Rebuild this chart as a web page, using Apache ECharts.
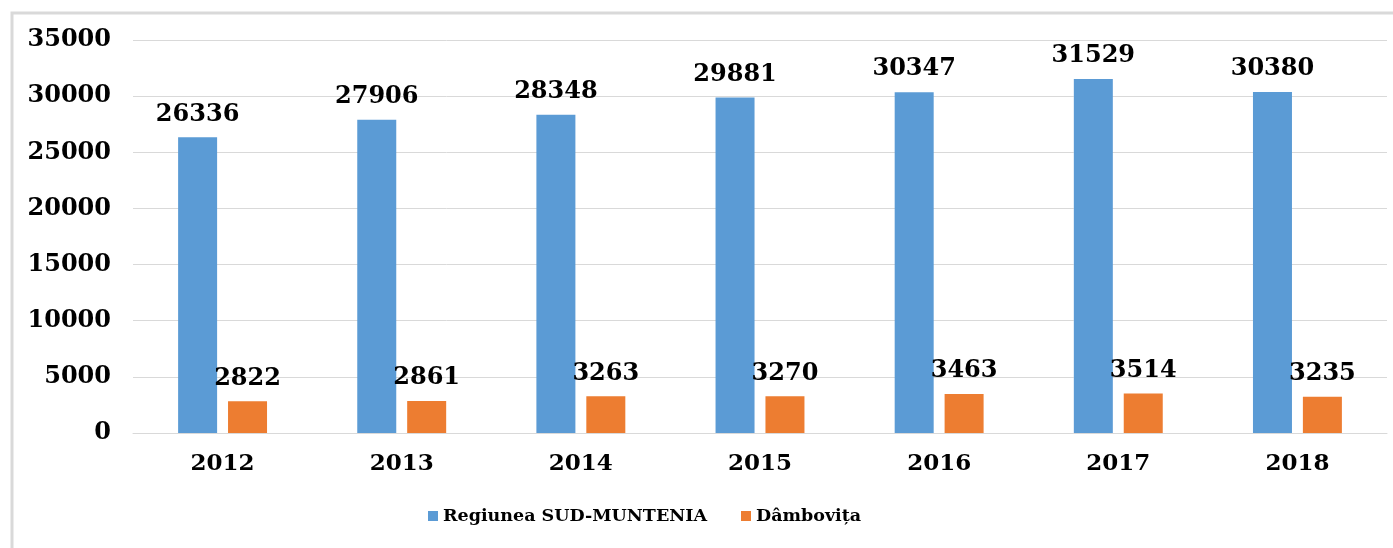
<!DOCTYPE html>
<html>
<head>
<meta charset="utf-8">
<script src="https://cdn.jsdelivr.net/npm/echarts@6/dist/echarts.min.js"></script>
<style>
  html, body { margin: 0; padding: 0; background: #fff; }
  #chart { width: 1393px; height: 548px; }
</style>
</head>
<body>
<div id="chart"></div>
<script>
const years = ['2012', '2013', '2014', '2015', '2016', '2017', '2018'];
const sudMuntenia = [26336, 27906, 28348, 29881, 30347, 31529, 30380];
const dambovita = [2822, 2861, 3263, 3270, 3463, 3514, 3235];
const seriesNames = ['Regiunea SUD-MUNTENIA', 'Dâmbovița'];

const FONT = '"DejaVu Serif", serif';
const chart = echarts.init(document.getElementById('chart'), null, { renderer: 'canvas' });

const option = {
  animation: false,
  backgroundColor: '#fff',
  graphic: [
    {
      type: 'rect',
      shape: { x: 12, y: 13, width: 1400, height: 600 },
      style: { fill: 'none', stroke: '#d9d9d9', lineWidth: 3 },
      silent: true
    }
  ],
  grid: { left: 133, right: 6, top: 40, bottom: 115 },
  legend: {
    bottom: 18,
    left: 423,
    itemWidth: 10,
    itemHeight: 10,
    itemGap: 34,
    icon: 'rect',
    textStyle: { fontFamily: FONT, fontWeight: 'bold', fontSize: 17.5, color: '#000' },
    data: seriesNames
  },
  xAxis: {
    type: 'category',
    data: years,
    axisLine: { lineStyle: { color: '#d9d9d9', width: 1 } },
    axisTick: { show: false },
    axisLabel: { fontFamily: FONT, fontWeight: 'bold', fontSize: 23, color: '#000', margin: 20 }
  },
  yAxis: {
    type: 'value',
    min: 0,
    max: 35000,
    interval: 5000,
    axisLine: { show: false },
    axisTick: { show: false },
    splitLine: { lineStyle: { color: '#d9d9d9', width: 1 } },
    axisLabel: {
      fontFamily: FONT, fontWeight: 'bold', fontSize: 24, color: '#000', margin: 22,
      formatter: function (v) { return String(v); }
    }
  },
  series: [
    {
      name: seriesNames[0],
      type: 'bar',
      data: sudMuntenia,
      barWidth: 39,
      barGap: '28%',
      itemStyle: { color: '#5b9bd5' },
      label: { show: true, position: 'top', distance: 11, fontFamily: FONT, fontWeight: 'bold', fontSize: 24, color: '#000' }
    },
    {
      name: seriesNames[1],
      type: 'bar',
      data: dambovita,
      barWidth: 39,
      itemStyle: { color: '#ed7d31' },
      label: { show: true, position: 'top', distance: 11, fontFamily: FONT, fontWeight: 'bold', fontSize: 24, color: '#000' }
    }
  ]
};

chart.setOption(option);
</script>
</body>
</html>
